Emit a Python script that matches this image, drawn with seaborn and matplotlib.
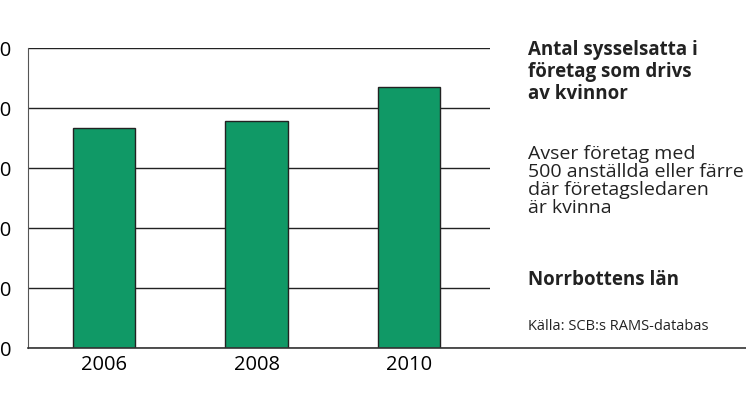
import matplotlib
matplotlib.use("Agg")
import matplotlib.pyplot as plt
import seaborn as sns
import pandas as pd

# values
years = ["2006", "2008", "2010"]
employed = [3670, 3780, 4350]
yticks = [0, 1000, 2000, 3000, 4000, 5000]
ytick_labels = ["0", "1 000", "2 000", "3 000", "4 000", "5 000"]

plt.rcParams["font.family"] = "Open Sans"
df = pd.DataFrame({"year": years, "n": employed})

fig = plt.figure(figsize=(7.46, 4.19), dpi=100)
ax = fig.add_axes([28 / 746, 1 - 348 / 419, 462 / 746, 300 / 419])
ax.set_axisbelow(True)
sns.barplot(data=df, x="year", y="n", color="#109966", width=0.41,
            edgecolor="#222222", linewidth=1, saturation=1, ax=ax)
ax.set_xlim(-0.5, 2.53)
ax.set_ylim(0, 5000)
ax.set_yticks(yticks)
ax.set_yticklabels(ytick_labels, fontsize=14.5)
ax.tick_params(axis="x", labelsize=14.5, length=0, pad=5)
ax.tick_params(axis="y", length=0, pad=12)
ax.grid(axis="y", color="#222222", linewidth=1)
for s in ["top", "right", "bottom"]:
    ax.spines[s].set_visible(False)
ax.spines["left"].set_color("#555555")
ax.set_xlabel("")
ax.set_ylabel("")

# bottom rule running under the text block
fig.add_artist(plt.Line2D([28 / 746, 1], [1 - 348 / 419] * 2, color="#333333", lw=1.2))

tx = 528 / 746
fig.text(tx, 1 - 40 / 419, "Antal sysselsatta i\nföretag som drivs\nav kvinnor", fontsize=13.5,
         fontweight="bold", va="top", linespacing=1.12, color="#222222")
fig.text(tx, 1 - 145 / 419, "Avser företag med\n500 anställda eller färre\ndär företagsledaren\när kvinna", fontsize=14,
         va="top", linespacing=1.0, color="#222222")
fig.text(tx, 1 - 270 / 419, "Norrbottens län", fontsize=13.5, fontweight="bold", va="top", color="#222222")
fig.text(tx, 1 - 319 / 419, "Källa: SCB:s RAMS-databas", fontsize=10.5, va="top", color="#222222")

fig.savefig("out.png", dpi=100)
